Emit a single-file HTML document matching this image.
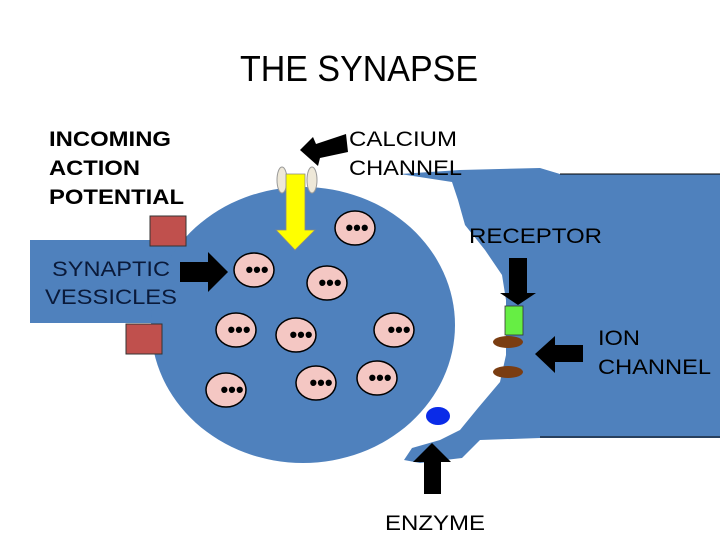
<!DOCTYPE html>
<html><head><style>
body{margin:0;background:#fff;}
svg text{font-family:"Liberation Sans",Arial,sans-serif;}
</style></head><body>
<svg width="720" height="540" viewBox="0 0 720 540" xmlns="http://www.w3.org/2000/svg">
<rect width="720" height="540" fill="#fff"/>
<text x="240" y="81" font-size="36" textLength="238" lengthAdjust="spacingAndGlyphs" fill="#000">THE SYNAPSE</text>
<!-- postsynaptic -->
<path d="M400,174 L460,170 L540,168 L560,174 L720,174 L720,438 L540,438 L480,440 L462,458 L420,463 L404,460 L412,448 L440,440 L460,430 L478,408 L500,382 L506,355 L506,300 L502,275 L485,250 L465,225 L458,200 L452,182 Z" fill="#4f81bd"/>
<line x1="560" y1="174" x2="720" y2="174" stroke="#000" stroke-width="1"/>
<line x1="540" y1="437" x2="720" y2="437" stroke="#000" stroke-width="1"/>
<!-- axon -->
<rect x="30" y="240" width="160" height="83" fill="#4f81bd"/>
<ellipse cx="303" cy="325" rx="152" ry="138" fill="#4f81bd"/>
<rect x="150" y="216" width="36" height="30" fill="#c0504d" stroke="#333" stroke-width="1"/>
<rect x="126" y="324" width="36" height="30" fill="#c0504d" stroke="#333" stroke-width="1"/>
<!-- vesicles -->
<g fill="#f4c7c3" stroke="#000" stroke-width="1.5">
<ellipse cx="355" cy="228" rx="20" ry="17"/>
<ellipse cx="254" cy="270" rx="20" ry="17"/>
<ellipse cx="327" cy="283" rx="20" ry="17"/>
<ellipse cx="236" cy="330" rx="20" ry="17"/>
<ellipse cx="296" cy="335" rx="20" ry="17"/>
<ellipse cx="394" cy="330" rx="20" ry="17"/>
<ellipse cx="226" cy="390" rx="20" ry="17"/>
<ellipse cx="316" cy="383" rx="20" ry="17"/>
<ellipse cx="377" cy="378" rx="20" ry="17"/>
</g>
<g font-size="22" font-weight="bold" fill="#000" text-anchor="middle">
<text x="357" y="235">•••</text>
<text x="257" y="277">•••</text>
<text x="330" y="290">•••</text>
<text x="239" y="337">•••</text>
<text x="301" y="342">•••</text>
<text x="399" y="337">•••</text>
<text x="232" y="397">•••</text>
<text x="321" y="390">•••</text>
<text x="380" y="385">•••</text>
</g>
<!-- calcium channel -->
<ellipse cx="282" cy="180" rx="5" ry="13" fill="#eee8d8" stroke="#999"/>
<ellipse cx="312" cy="180" rx="5" ry="13" fill="#eee8d8" stroke="#999"/>
<path d="M286,174 L305,174 L305,230 L315,230 L295,250 L276,230 L286,230 Z" fill="#ffff00" stroke="#888" stroke-width="0.8"/>
<path d="M346,134 L348,152 L320,158 L318,166 L300,150 L313,137 L316,144 Z" fill="#000"/>
<!-- synaptic arrow -->
<path d="M180,262 L208,262 L208,252 L228,272 L208,292 L208,282 L180,282 Z" fill="#000"/>
<!-- receptor -->
<path d="M509,258 L527,258 L527,293 L536,293 L518,305 L500,293 L509,293 Z" fill="#000"/>
<rect x="505" y="306" width="18" height="29" fill="#66ee44" stroke="#333" stroke-width="0.8"/>
<ellipse cx="508" cy="342" rx="15" ry="6" fill="#7a3d12"/>
<ellipse cx="508" cy="372" rx="15" ry="6" fill="#7a3d12"/>
<path d="M583,345 L583,362 L555,362 L555,373 L535,354 L555,336 L555,345 Z" fill="#000"/>
<ellipse cx="438" cy="416" rx="12" ry="9" fill="#0a2be8"/>
<path d="M424,494 L424,462 L413,462 L432,443 L451,462 L441,462 L441,494 Z" fill="#000"/>
<!-- labels -->
<g font-size="21" font-weight="bold" fill="#000" lengthAdjust="spacingAndGlyphs">
<text x="49" y="146" textLength="122" lengthAdjust="spacingAndGlyphs">INCOMING</text>
<text x="49" y="175" textLength="91" lengthAdjust="spacingAndGlyphs">ACTION</text>
<text x="49" y="204" textLength="135" lengthAdjust="spacingAndGlyphs">POTENTIAL</text>
</g>
<g font-size="21" fill="#000">
<text x="349" y="146" textLength="108" lengthAdjust="spacingAndGlyphs">CALCIUM</text>
<text x="349" y="175" textLength="113" lengthAdjust="spacingAndGlyphs">CHANNEL</text>
<text x="469" y="243" textLength="133" lengthAdjust="spacingAndGlyphs">RECEPTOR</text>
<text x="598" y="345" textLength="42" lengthAdjust="spacingAndGlyphs">ION</text>
<text x="598" y="374" textLength="113" lengthAdjust="spacingAndGlyphs">CHANNEL</text>
<text x="385" y="530" textLength="100" lengthAdjust="spacingAndGlyphs">ENZYME</text>
</g>
<g font-size="21" fill="#0a1a3a">
<text x="52" y="276" textLength="118" lengthAdjust="spacingAndGlyphs">SYNAPTIC</text>
<text x="45" y="304" textLength="132" lengthAdjust="spacingAndGlyphs">VESSICLES</text>
</g>
</svg>
</body></html>
